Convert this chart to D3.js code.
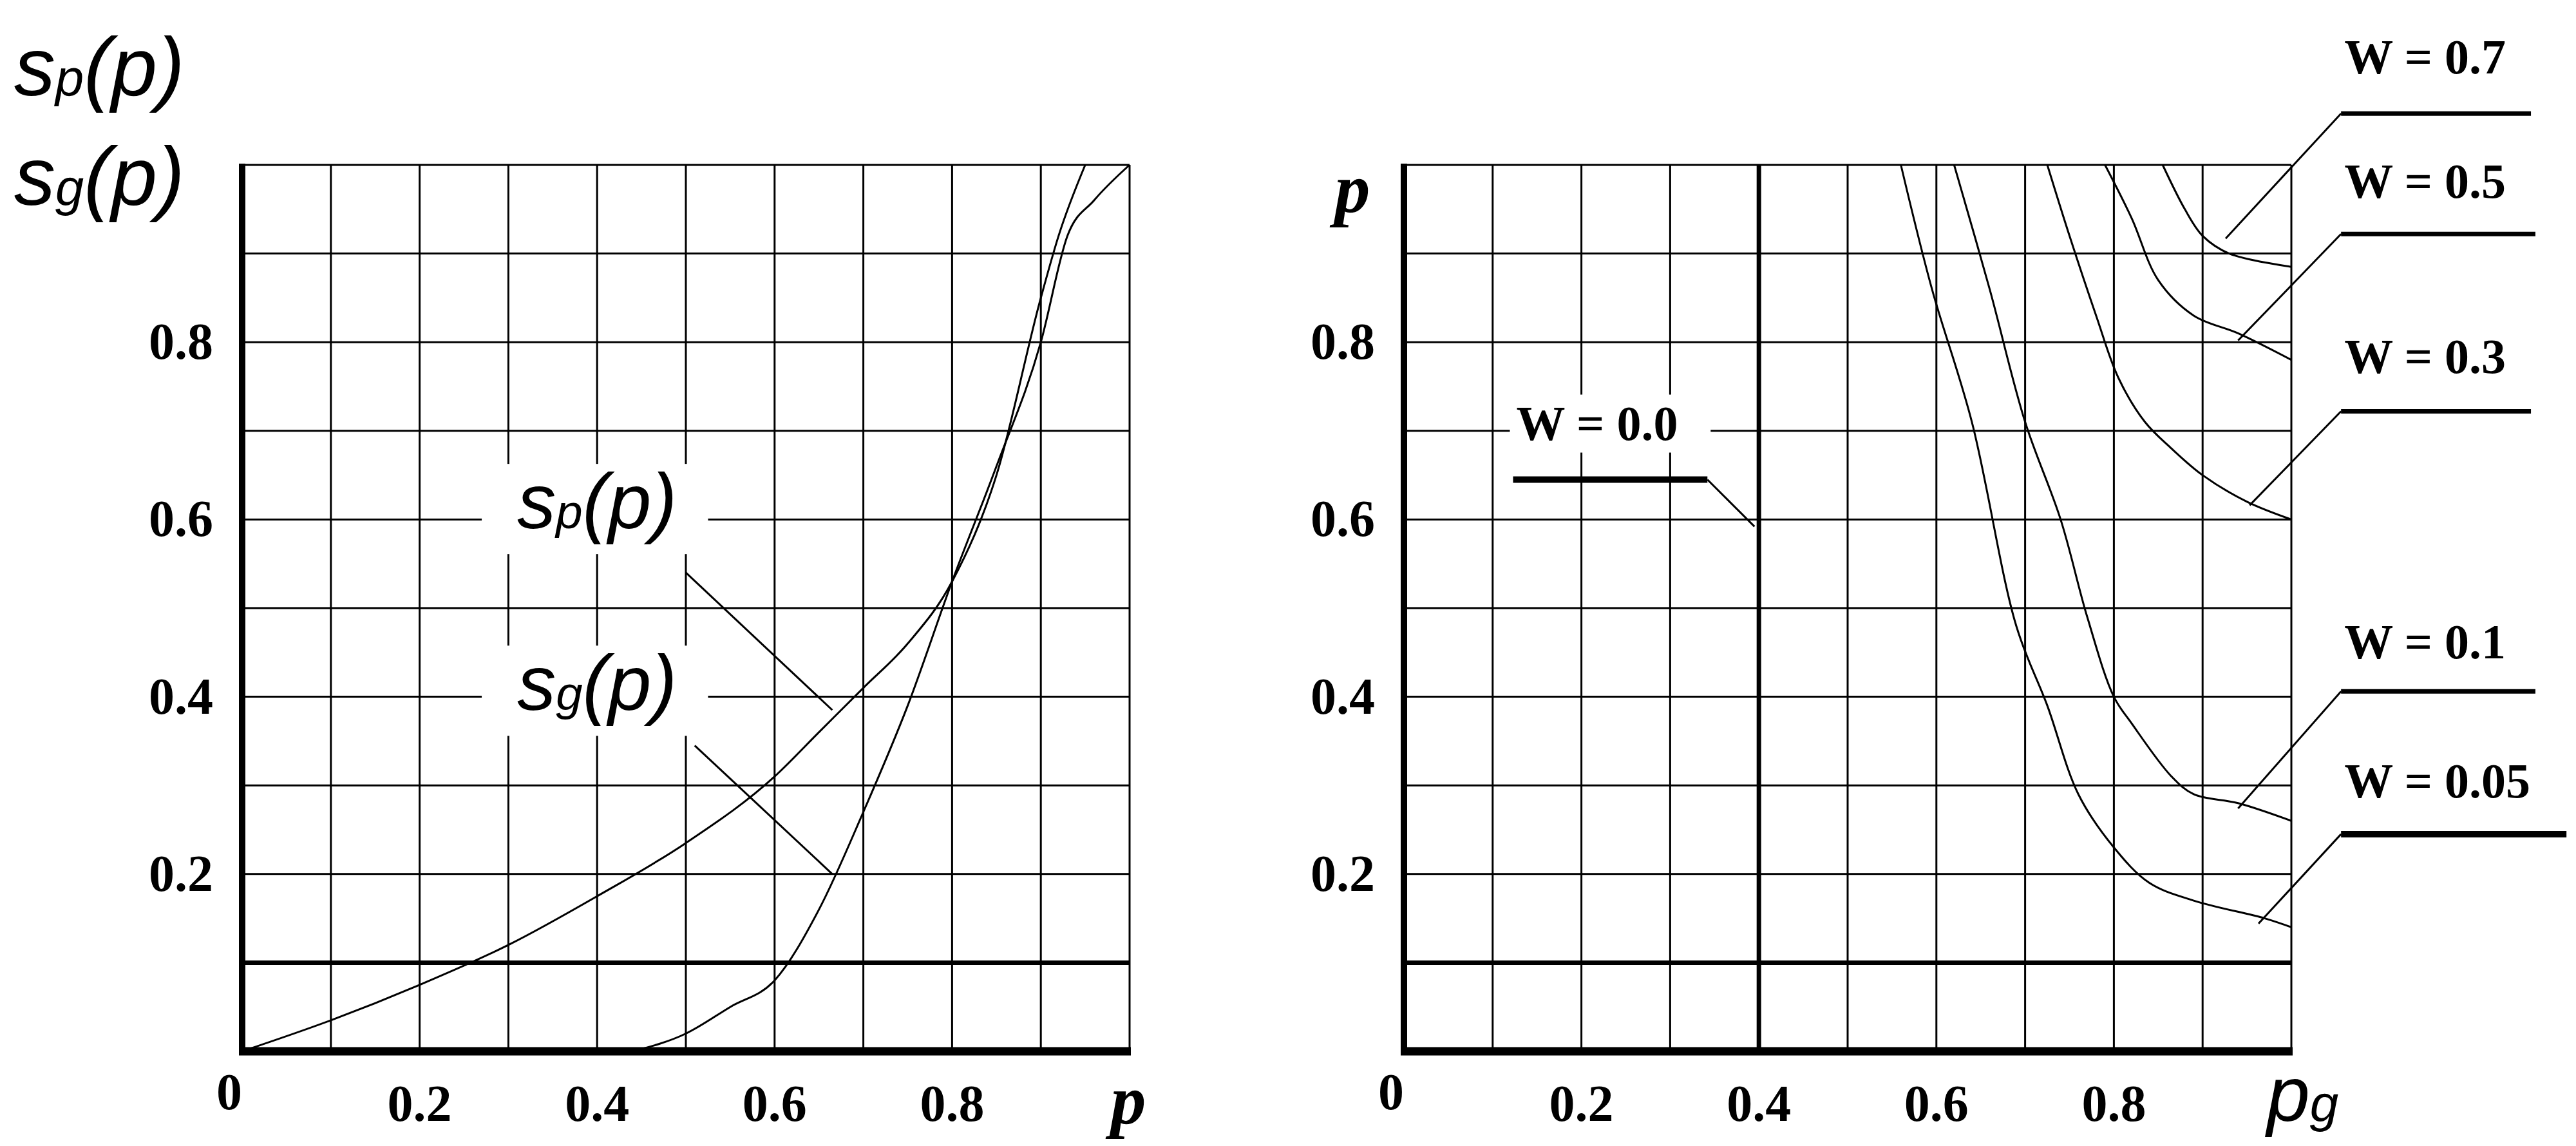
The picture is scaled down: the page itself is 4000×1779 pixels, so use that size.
<!DOCTYPE html>
<html><head><meta charset="utf-8">
<script src="https://cdn.jsdelivr.net/npm/d3@7"></script>
<style>body{margin:0;background:#fff}</style>
</head><body>
<script>
// data
var gridTicks = [0,0.1,0.2,0.3,0.4,0.5,0.6,0.7,0.8,0.9,1.0];
var xTickLabels = [0.2,0.4,0.6,0.8];
var yTickLabels = [0.2,0.4,0.6,0.8];

var spCurve = [[0,0],[0.1,0.035],[0.2,0.075],[0.3,0.12],[0.4,0.175],[0.5,0.235],[0.6,0.31],[0.65,0.36],[0.7,0.41],[0.75,0.46],[0.8,0.53],[0.85,0.65],[0.9,0.85],[0.92,0.92],[0.95,1.0]];
var sgCurve = [[0.44,0],[0.5,0.02],[0.55,0.05],[0.6,0.08],[0.65,0.16],[0.7,0.27],[0.75,0.39],[0.8,0.53],[0.85,0.66],[0.9,0.8],[0.93,0.92],[0.96,0.96],[1.0,1.0]];

var w005 = [[0.56,1.0],[0.595,0.86],[0.64,0.71],[0.69,0.48],[0.725,0.39],[0.76,0.29],[0.8,0.23],[0.84,0.19],[0.89,0.17],[0.97,0.15],[1.0,0.14]];
var w01  = [[0.62,1.0],[0.66,0.86],[0.7,0.71],[0.74,0.6],[0.77,0.49],[0.8,0.4],[0.82,0.37],[0.865,0.31],[0.89,0.29],[0.94,0.28],[1.0,0.26]];
var w03  = [[0.725,1.0],[0.75,0.92],[0.78,0.83],[0.805,0.76],[0.835,0.71],[0.865,0.68],[0.9,0.65],[0.95,0.62],[1.0,0.6]];
var w05  = [[0.79,1.0],[0.82,0.94],[0.85,0.87],[0.89,0.83],[0.94,0.81],[1.0,0.78]];
var w07  = [[0.855,1.0],[0.88,0.95],[0.9,0.92],[0.93,0.9],[1.0,0.885]];

// labels: text, text y, underline y, underline x range, leader end
var wLabels = [
  {t:"W = 0.7",  ty:1.103, uy:1.058, ux:[1.056,1.27],  end:[0.926,0.917], thick:false},
  {t:"W = 0.5",  ty:0.963, uy:0.922, ux:[1.056,1.275], end:[0.94,0.802],  thick:false},
  {t:"W = 0.3",  ty:0.765, uy:0.722, ux:[1.056,1.27],  end:[0.953,0.616], thick:false},
  {t:"W = 0.1",  ty:0.443, uy:0.406, ux:[1.056,1.275], end:[0.94,0.274],  thick:false},
  {t:"W = 0.05", ty:0.286, uy:0.245, ux:[1.056,1.31],  end:[0.963,0.144], thick:true},
  {t:"W = 0.0",  ty:0.69,  uy:0.645, ux:[0.123,0.342], end:[0.395,0.592], thick:true, left:true}
];

var svg = d3.select("body").append("svg").attr("width",4000).attr("height",1779);
var serif = "'Liberation Serif','Times New Roman',serif";
var sans = "'Liberation Sans',Arial,sans-serif";

function panel(x0, x1) {
  var x = d3.scaleLinear().domain([0,1]).range([x0,x1]);
  var y = d3.scaleLinear().domain([0,1]).range([1632,256]);
  var g = svg.append("g");
  g.selectAll(".gx").data(gridTicks).enter().append("line")
    .attr("x1",d=>x(d)).attr("x2",d=>x(d)).attr("y1",y(0)).attr("y2",y(1))
    .attr("stroke","#000").attr("stroke-width",3);
  g.selectAll(".gy").data(gridTicks).enter().append("line")
    .attr("x1",x(0)).attr("x2",x(1)).attr("y1",d=>y(d)).attr("y2",d=>y(d))
    .attr("stroke","#000").attr("stroke-width",d=>d===0.1?7:3);
  g.append("line").attr("x1",x(0)).attr("x2",x(0)).attr("y1",y(0)+6).attr("y2",y(1)-2)
    .attr("stroke","#000").attr("stroke-width",10);
  g.append("line").attr("x1",x(0)-5).attr("x2",x(1)+2).attr("y1",y(0)).attr("y2",y(0))
    .attr("stroke","#000").attr("stroke-width",13);
  g.selectAll(".xl").data(xTickLabels).enter().append("text")
    .attr("x",d=>x(d)).attr("y",1740).attr("text-anchor","middle")
    .attr("font-family",serif).attr("font-weight","bold").attr("font-size",80).text(d=>d.toFixed(1));
  g.selectAll(".yl").data(yTickLabels).enter().append("text")
    .attr("x",x0-45).attr("y",d=>y(d)+26).attr("text-anchor","end")
    .attr("font-family",serif).attr("font-weight","bold").attr("font-size",80).text(d=>d.toFixed(1));
  g.append("text").attr("x",x0-20).attr("y",1722).attr("text-anchor","middle")
    .attr("font-family",serif).attr("font-weight","bold").attr("font-size",80).text("0");
  return {g:g, x:x, y:y};
}

// left panel
var L = panel(376, 1754);
[spCurve, sgCurve].forEach(function(c){
  L.g.append("path").datum(c).attr("d", d3.line().x(d=>L.x(d[0])).y(d=>L.y(d[1])).curve(d3.curveMonotoneX))
    .attr("fill","none").attr("stroke","#000").attr("stroke-width",3);
});
function subLabel(g, xp, yp, sub, size, anchor) {
  var t = g.append("text").attr("x",xp).attr("y",yp).attr("font-family",sans).attr("font-style","italic")
    .attr("font-size",size).attr("text-anchor",anchor||"start");
  t.append("tspan").text("s");
  t.append("tspan").attr("font-size",size*0.62).text(sub);
  t.append("tspan").text("(p)");
  return t;
}
// in-plot labels with white boxes
[{s:"p", y:0.59, from:[0.5,0.54], to:[0.665,0.385]}, {s:"g", y:0.385, from:[0.51,0.345], to:[0.665,0.2]}].forEach(function(d){
  L.g.append("rect").attr("x",L.x(0.27)).attr("y",L.y(d.y)-100).attr("width",L.x(0.525)-L.x(0.27)).attr("height",140).attr("fill","#fff");
  subLabel(L.g, L.x(0.4), L.y(d.y), d.s, 120, "middle");
  L.g.append("line").attr("x1",L.x(d.from[0])).attr("y1",L.y(d.from[1])).attr("x2",L.x(d.to[0])).attr("y2",L.y(d.to[1]))
    .attr("stroke","#000").attr("stroke-width",3);
});
subLabel(svg, 22, 148, "p", 128);
subLabel(svg, 22, 318, "g", 128);
svg.append("text").attr("x",1752).attr("y",1745).attr("font-family",serif).attr("font-style","italic").attr("font-weight","bold")
  .attr("font-size",110).attr("text-anchor","middle").text("p");

// right panel
var R = panel(2180, 3558);
R.g.append("line").attr("x1",R.x(0.4)).attr("x2",R.x(0.4)).attr("y1",R.y(0)).attr("y2",R.y(1))
  .attr("stroke","#000").attr("stroke-width",7);
[w005,w01,w03,w05,w07].forEach(function(c){
  R.g.append("path").datum(c).attr("d", d3.line().x(d=>R.x(d[0])).y(d=>R.y(d[1])).curve(d3.curveCatmullRom))
    .attr("fill","none").attr("stroke","#000").attr("stroke-width",3);
});
wLabels.forEach(function(d){
  var ux0 = R.x(d.ux[0]), ux1 = R.x(d.ux[1]), uy = R.y(d.uy);
  if (d.left) R.g.append("rect").attr("x",ux0-5).attr("y",R.y(d.ty)-70).attr("width",ux1-ux0+10).attr("height",90).attr("fill","#fff");
  R.g.append("text").attr("x",ux0+5).attr("y",R.y(d.ty)).attr("font-family",serif).attr("font-weight","bold")
    .attr("font-size",76).text(d.t);
  R.g.append("line").attr("x1",ux0).attr("x2",ux1).attr("y1",uy).attr("y2",uy)
    .attr("stroke","#000").attr("stroke-width",d.thick?10:7);
  var sx = d.left ? ux1 : ux0;
  R.g.append("line").attr("x1",sx).attr("y1",uy).attr("x2",R.x(d.end[0])).attr("y2",R.y(d.end[1]))
    .attr("stroke","#000").attr("stroke-width",3);
});
svg.append("text").attr("x",2100).attr("y",330).attr("font-family",serif).attr("font-style","italic").attr("font-weight","bold")
  .attr("font-size",110).attr("text-anchor","middle").text("p");
var pg = svg.append("text").attr("x",3520).attr("y",1740).attr("font-family",sans).attr("font-style","italic")
  .attr("font-size",120).attr("fill","#000");
pg.append("tspan").text("p");
pg.append("tspan").attr("font-size",80).text("g");
</script>
</body></html>
